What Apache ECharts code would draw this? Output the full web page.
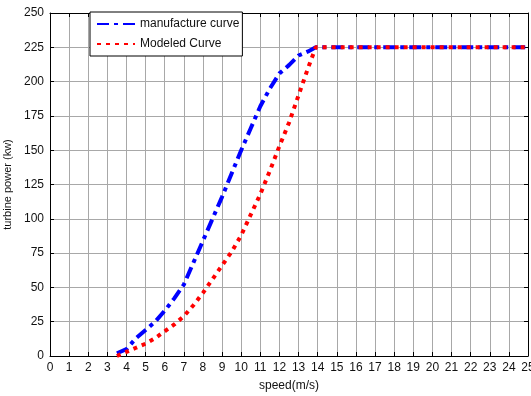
<!DOCTYPE html>
<html>
<head>
<meta charset="utf-8">
<script src="https://cdn.jsdelivr.net/npm/echarts@6/dist/echarts.min.js"></script>
<style>
  html, body { margin: 0; padding: 0; background: #fff; }
  #chart { width: 531px; height: 396px; }
</style>
</head>
<body>
<div id="chart"></div>
<script>
// wind speed (m/s) samples
const speeds = [3.5, 4, 4.5, 5, 5.5, 6, 6.5, 7, 7.5, 8, 8.5, 9, 9.5, 10, 10.5, 11, 11.5, 12, 12.5, 13, 13.5, 13.9, 14, 25];
// turbine power (kw)
const manufacture = [2, 5, 13, 19, 25, 33, 42, 52, 68, 84, 100, 116, 133, 150, 166, 182, 195, 206, 212, 219, 222, 225, 225, 225];
const modeled = [0, 3, 6, 9, 13, 18, 23, 29, 37, 46, 56, 66, 76, 88, 103, 118, 135, 153, 170, 190, 210, 225, 225, 225];

const FONT = 'Liberation Sans, Arial, sans-serif';

function pairs(xs, ys) {
    return xs.map((x, i) => [x, ys[i]]);
}

const chart = echarts.init(document.getElementById('chart'), null, {renderer: 'canvas'});

const tickStyle = {show: true, inside: true, length: 4, lineStyle: {color: '#000'}};
const axisLine = {show: true, onZero: false, lineStyle: {color: '#000', width: 1}};

chart.setOption({
    backgroundColor: '#fff',
    animation: false,
    textStyle: {fontFamily: FONT},
    grid: {left: 50, right: 3, top: 13, bottom: 40, outerBoundsMode: 'none', containLabel: false},
    legend: {
        left: 90,
        top: 12,
        orient: 'vertical',
        backgroundColor: '#fff',
        borderColor: '#000',
        borderWidth: 1,
        borderRadius: 0,
        padding: [6, 3, 6, 6],
        itemGap: 8,
        itemWidth: 38,
        itemHeight: 12,
        itemStyle: {opacity: 0},
        textStyle: {fontFamily: FONT, fontSize: 12, color: '#111'},
        data: ['manufacture curve', 'Modeled Curve']
    },
    xAxis: [{
        type: 'value',
        min: 0, max: 25, interval: 1,
        name: 'speed(m/s)',
        nameLocation: 'middle',
        nameGap: 24,
        nameTextStyle: {fontFamily: FONT, fontSize: 12, color: '#111'},
        axisLine: axisLine,
        axisTick: tickStyle,
        axisLabel: {fontFamily: FONT, fontSize: 12, color: '#111', margin: 6},
        splitLine: {show: true, lineStyle: {color: '#a8a8a8', width: 1}}
    }, {
        type: 'value',
        position: 'top',
        min: 0, max: 25, interval: 1,
        axisLine: axisLine,
        axisTick: tickStyle,
        axisLabel: {show: false},
        splitLine: {show: false}
    }],
    yAxis: [{
        type: 'value',
        min: 0, max: 250, interval: 25,
        name: 'turbine power (kw)',
        nameLocation: 'middle',
        nameGap: 34,
        nameTextStyle: {fontFamily: FONT, fontSize: 11, color: '#111'},
        axisLine: axisLine,
        axisTick: tickStyle,
        axisLabel: {fontFamily: FONT, fontSize: 12, color: '#111', margin: 6},
        splitLine: {show: true, lineStyle: {color: '#a8a8a8', width: 1}}
    }, {
        type: 'value',
        position: 'right',
        min: 0, max: 250, interval: 25,
        axisLine: axisLine,
        axisTick: tickStyle,
        axisLabel: {show: false},
        splitLine: {show: false}
    }],
    series: [{
        name: 'manufacture curve',
        type: 'line',
        symbol: 'none',
        itemStyle: {color: '#0000ff'},
        lineStyle: {color: '#0000ff', width: 4, type: [12, 5, 4, 5]},
        data: pairs(speeds, manufacture)
    }, {
        name: 'Modeled Curve',
        type: 'line',
        symbol: 'none',
        itemStyle: {color: '#ff0000'},
        lineStyle: {color: '#ff0000', width: 4, type: [4, 5]},
        data: pairs(speeds, modeled)
    }]
});
</script>
</body>
</html>
